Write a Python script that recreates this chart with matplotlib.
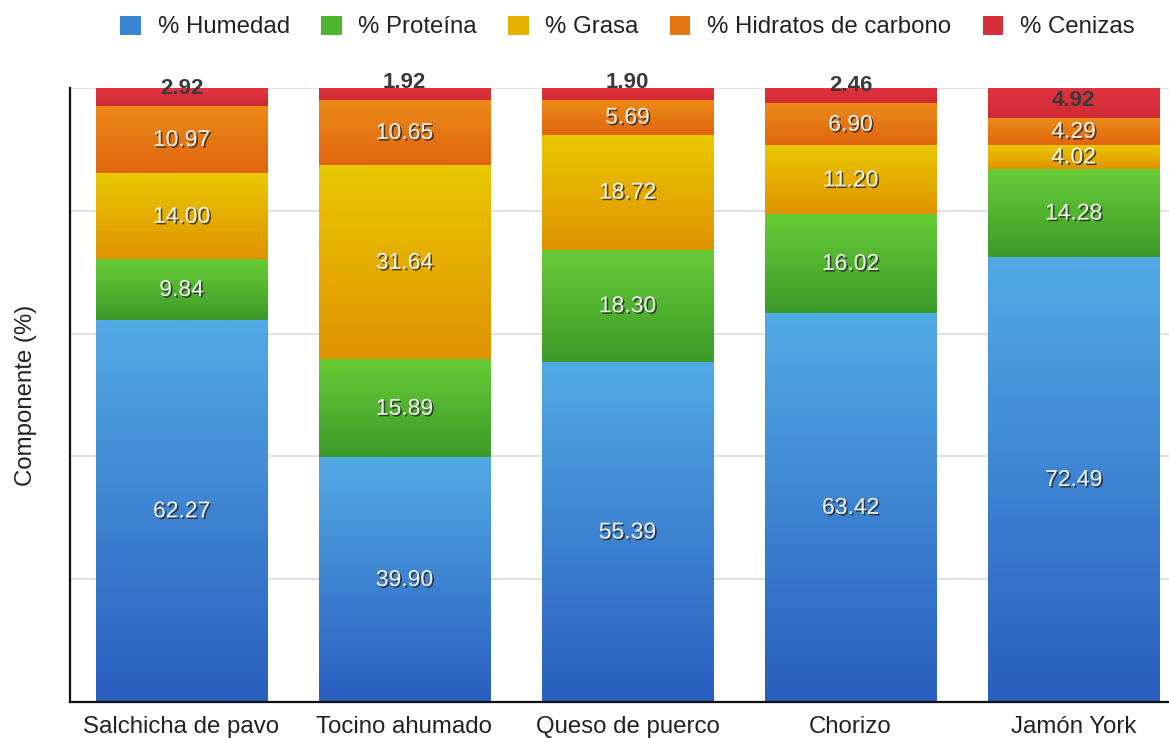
import numpy as np
import matplotlib
matplotlib.use("Agg")
import matplotlib.pyplot as plt
from matplotlib.patches import Patch
import matplotlib.patheffects as pe
from matplotlib.colors import to_rgb

plt.rcParams['font.family'] = ['Liberation Sans', 'DejaVu Sans']

productos = ["Salchicha de pavo", "Tocino ahumado", "Queso de puerco", "Chorizo", "Jamón York"]
componentes = ["% Humedad", "% Proteína", "% Grasa", "% Hidratos de carbono", "% Cenizas"]

humedad = [62.27, 39.90, 55.39, 63.42, 72.49]
proteina = [9.84, 15.89, 18.30, 16.02, 14.28]
grasa = [14.00, 31.64, 18.72, 11.20, 4.02]
hidratos = [10.97, 10.65, 5.69, 6.90, 4.29]
cenizas = [2.92, 1.92, 1.90, 2.46, 4.92]

series = [humedad, proteina, grasa, hidratos, cenizas]

# (top, bottom) colours of the vertical gradient in each segment
gradientes = [
    ("#52aae4", "#2a5ec0"),
    ("#68cc36", "#3c9a2a"),
    ("#e9c800", "#e09300"),
    ("#ec8a18", "#e06610"),
    ("#e2343e", "#d02a36"),
]
legend_colors = ["#3a84d2", "#4fb42f", "#e6b000", "#e67814", "#d8303a"]

fig = plt.figure(figsize=(11.69, 7.38), dpi=100)
W, H = 1169, 738
ax = fig.add_axes([70 / W, (H - 702) / H, 1115 / W, 614 / H])

x = np.arange(len(productos))
width = 0.767
bottom = np.zeros(len(productos))

shadow = [pe.SimplePatchShadow(offset=(1.2, -1.2), shadow_rgbFace="#222222", alpha=0.75), pe.Normal()]

for i, (vals, (ctop, cbot)) in enumerate(zip(series, gradientes)):
    vals = np.array(vals)
    bars = ax.bar(x, vals, width, bottom=bottom, color="none", edgecolor="none", zorder=2)
    top_rgb = np.array(to_rgb(ctop))
    bot_rgb = np.array(to_rgb(cbot))
    t = np.linspace(0, 1, 64)[:, None]
    grad = (top_rgb * (1 - t) + bot_rgb * t)[:, None, :]
    for rect, v in zip(bars, vals):
        x0, y0 = rect.get_x(), rect.get_y()
        w, h = rect.get_width(), rect.get_height()
        ax.imshow(grad, extent=[x0, x0 + w, y0, y0 + h], aspect="auto",
                  interpolation="bilinear", zorder=2)
        cx = x0 + w / 2
        if i == len(series) - 1:
            ax.annotate(f"{v:.2f}", xy=(cx, y0), xytext=(0, 5), textcoords="offset points",
                        ha="center", va="bottom", fontsize=16, fontweight="bold",
                        color="#3a3a3a", zorder=4)
        else:
            ax.text(cx, y0 + h / 2, f"{v:.2f}", ha="center", va="center", fontsize=16.5,
                    color="#f2f2f2", zorder=4, path_effects=shadow)
    bottom += vals

ax.set_xlim(-0.5, len(productos) - 0.5)
ax.set_ylim(0, 100)
ax.set_yticks([0, 20, 40, 60, 80, 100])
ax.set_yticklabels([])
ax.yaxis.grid(True, color="#e2e2e2", linewidth=1.6, zorder=0)
ax.set_axisbelow(True)
ax.tick_params(axis="y", length=0)
ax.tick_params(axis="x", length=0, pad=10)
ax.set_xticks(x)
ax.set_xticklabels(productos, fontsize=17.3, color="#222222")
ax.set_ylabel("Componente (%)", fontsize=17.3, color="#222222", labelpad=20)
for s in ["top", "right"]:
    ax.spines[s].set_visible(False)
ax.spines["left"].set_color("#111111")
ax.spines["left"].set_linewidth(1.6)
ax.spines["bottom"].set_color("#111111")
ax.spines["bottom"].set_linewidth(1.6)
ax.spines["left"].set_zorder(5)
ax.spines["bottom"].set_zorder(5)

handles = [Patch(facecolor=c, edgecolor="none") for c in legend_colors]
ax.legend(handles, componentes, loc="center", bbox_to_anchor=(0.5, 1 + (88 - 27) / 614),
          ncol=5, frameon=False, fontsize=17.3, handlelength=0.85, handleheight=0.85,
          handletextpad=0.7, columnspacing=1.3, labelcolor="#222222")

fig.savefig("out.png", dpi=100)
